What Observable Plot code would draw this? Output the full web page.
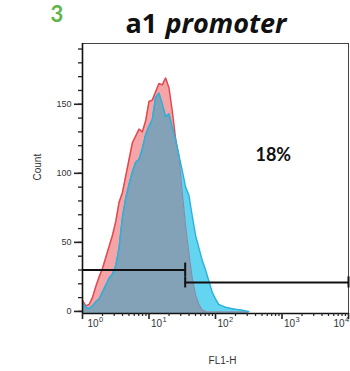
<!DOCTYPE html>
<html>
<head>
<meta charset="utf-8">
<script src="https://cdn.jsdelivr.net/npm/d3@7"></script>
<script src="https://cdn.jsdelivr.net/npm/@observablehq/plot@0.6"></script>
<style>
  html, body { margin: 0; padding: 0; background: #fff; }
  #chart svg { display: block; }
</style>
</head>
<body>
<div id="chart"></div>
<script>
// FL1-H bins as decade exponents (log10 of fluorescence)
const binExp = [0,0.05,0.1,0.15,0.2,0.25,0.3,0.35,0.4,0.45,0.5,0.55,0.6,0.65,0.7,0.75,0.8,0.85,0.9,0.95,
  1,1.05,1.1,1.15,1.2,1.25,1.3,1.35,1.4,1.45,1.5,1.55,1.6,1.65,1.7,1.75,1.8,1.85,1.9,1.95,
  2,2.05,2.1,2.15,2.2,2.25,2.3,2.35,2.4,2.45,2.5];
// control (red) counts
const controlCounts = [8,4,5,10,18,25,31,39,47,55,65,79,86,98,110,122,127,132,130,138,
  152,153,159,165,164,169,162,145,125,112,86,62,42,24,12,5,1,0,0,0,
  0,0,0,0,0,0,0,0,0,0,0];
// a1 promoter (blue) counts
const sampleCounts = [6,3,2,4,7,9,14,19,24,27,33,46,68,82,92,101,108,110,118,128,
  134,139,155,158,150,141,143,133,124,113,102,90,84,69,55,46,37,30,22,14,
  9,5,4,3,2.5,2,1.5,1.2,0.8,0.3,0];

const yTicksMinor = [0,10,20,30,40,50,60,70,80,90,100,110,120,130,140,150,160,170,180,190];
const yTicksMajor = [0,50,100,150];
const xMajor = [1,10,100,1000,10000];
const xMajorExp = ["0","1","2","3","4"];
const xMinor = [2,3,4,5,6,7,8,9,20,30,40,50,60,70,80,90,200,300,400,500,600,700,800,900,
  2000,3000,4000,5000,6000,7000,8000,9000];

// gates: [start FL1-H, end FL1-H, count level]
const gateNeg = {x1: 1, x2: 35, y: 30};
const gatePos = {x1: 35, x2: 10000, y: 21};
const gateLabel = {x: 740, y: 113, text: "18%"};

const yMin = -1.5, yMax = 194;

const data = binExp.map((e, i) => ({fl: 10 ** e, red: controlCounts[i], blue: sampleCounts[i]}));
const redLine = data.filter((d, i) => d.red > 0 || (i > 0 && controlCounts[i - 1] > 0));
const blueLine = data.filter((d, i) => d.blue > 0 || (i > 0 && sampleCounts[i - 1] > 0));

const tickFont = "'Liberation Sans', Arial, sans-serif";
const titleFont = "'Open Sans', Lato, sans-serif";

const xLabelMarks = (vals, exps, dx) => [
  Plot.text(vals, {x: d => d, text: () => "10", frameAnchor: "bottom", dy: 13, dx,
    textAnchor: "start", fontSize: 10, fill: "#333"}),
  Plot.text(vals, {x: d => d, text: (d, i) => exps[i], frameAnchor: "bottom", dy: 8, dx: dx + 11.5,
    textAnchor: "start", fontSize: 7.5, fill: "#333"})
];

const chart = Plot.plot({
  width: 350,
  height: 371,
  marginTop: 43,
  marginBottom: 58,
  marginLeft: 82,
  marginRight: 2,
  style: {fontFamily: tickFont, background: "#fff"},
  x: {type: "log", domain: [1, 10000]},
  y: {domain: [yMin, yMax]},
  marks: [
    Plot.areaY(data, {x: "fl", y1: yMin, y2: "red", fill: "#f5a4a7"}),
    Plot.line(redLine, {x: "fl", y: "red", stroke: "#e2494f", strokeWidth: 1.5}),
    Plot.areaY(data, {x: "fl", y1: yMin, y2: "blue", fill: "#64d5f1"}),
    Plot.areaY(data, {x: "fl", y1: yMin, y2: d => Math.min(d.red, d.blue), fill: "#84a2b7"}),
    Plot.line(redLine, {x: "fl", y: d => Math.min(d.red, d.blue), stroke: "#8a8aa6", strokeWidth: 1.2}),
    Plot.line(blueLine, {x: "fl", y: "blue", stroke: "#2ab3dd", strokeWidth: 1.5}),
    Plot.frame({stroke: "#444", strokeWidth: 1}),
    // gates
    Plot.ruleY([gateNeg], {x1: "x1", x2: "x2", y: "y", stroke: "#111", strokeWidth: 2}),
    Plot.ruleX([gateNeg], {x: "x2", y1: d => d.y - 5, y2: d => d.y + 5, stroke: "#111", strokeWidth: 2}),
    Plot.ruleY([gatePos], {x1: "x1", x2: "x2", y: "y", stroke: "#111", strokeWidth: 2}),
    Plot.ruleX([gatePos], {x: "x1", y1: d => d.y - 4, y2: d => d.y + 4, stroke: "#111", strokeWidth: 2}),
    Plot.ruleX([gatePos], {x: "x2", y1: d => d.y - 4, y2: d => d.y + 4, stroke: "#111", strokeWidth: 2}),
    Plot.text([gateLabel], {x: "x", y: "y", text: "text", fontSize: 18, fontWeight: "bold",
      fontFamily: "Lato, 'Open Sans', sans-serif", fill: "#111"}),
    // axes
    Plot.ruleX([1], {stroke: "#111", strokeWidth: 1.6}),
    Plot.ruleY([yMin], {stroke: "#111", strokeWidth: 1.6}),
    Plot.axisY({ticks: yTicksMinor, tickSize: 4, tickFormat: () => "", stroke: "#222", strokeWidth: 1.3}),
    Plot.axisY({ticks: yTicksMajor, tickSize: 8, tickPadding: 3, fontSize: 9, stroke: "#222",
      strokeWidth: 1.6, fill: "#333", label: null}),
    Plot.axisX({ticks: xMinor, tickSize: 3, tickFormat: () => "", stroke: "#222", strokeWidth: 1.2, label: null}),
    Plot.axisX({ticks: xMajor, tickSize: 6, tickFormat: () => "", stroke: "#222", strokeWidth: 1.6, label: null}),
    ...xLabelMarks(xMajor.slice(0, 1), xMajorExp.slice(0, 1), 5),
    ...xLabelMarks(xMajor.slice(1, 4), xMajorExp.slice(1, 4), 2),
    ...xLabelMarks(xMajor.slice(4), xMajorExp.slice(4), -15),
    Plot.text(["FL1-H"], {frameAnchor: "bottom", dy: 50, dx: 7, fontSize: 10, fill: "#333"}),
    Plot.text(["Count"], {frameAnchor: "left", dx: -45, dy: 2, rotate: -90, fontSize: 10, fill: "#333"}),
    // title
    Plot.text(["a1"], {frameAnchor: "top-left", dx: 43, dy: -11, textAnchor: "start", lineAnchor: "bottom",
      fontSize: 27, fontWeight: "bold", fontFamily: titleFont, fill: "#111"}),
    Plot.text(["promoter"], {frameAnchor: "top-left", dx: 83, dy: -11, textAnchor: "start", lineAnchor: "bottom",
      fontSize: 27, fontWeight: "bold", fontStyle: "italic", fontFamily: titleFont, fill: "#111"}),
    Plot.text(["3"], {frameAnchor: "top-left", dx: -32, dy: -22, textAnchor: "start", lineAnchor: "bottom",
      fontSize: 22, fontWeight: "bold", fontFamily: "Lato, 'Open Sans', sans-serif", fill: "#5fb548"})
  ]
});
document.getElementById("chart").appendChild(chart);
</script>
</body>
</html>
